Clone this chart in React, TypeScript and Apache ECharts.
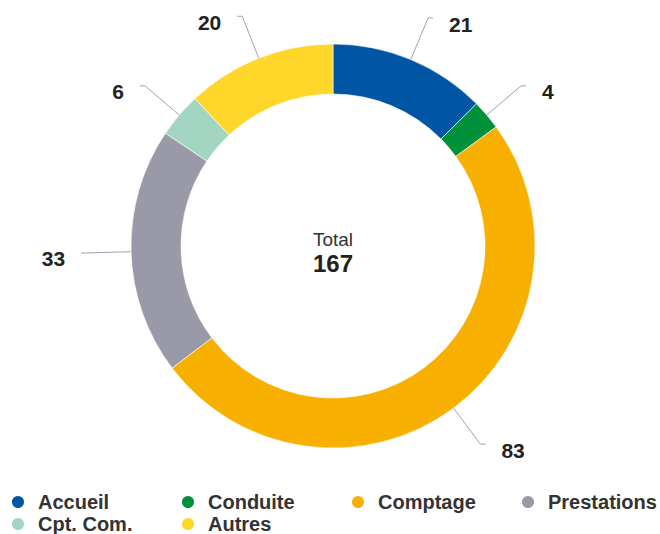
import React, { useEffect, useRef } from "react";
import * as echarts from "echarts";

const categories = ["Accueil", "Conduite", "Comptage", "Prestations", "Cpt. Com.", "Autres"];
const values = [21, 4, 83, 33, 6, 20];
const colors = ["#0055A4", "#00913A", "#F7AF00", "#9999A8", "#A3D5C3", "#FFD62A"];
const totalLabel = "Total";

export default function App() {
  const ref = useRef<HTMLDivElement>(null);
  useEffect(() => {
    document.body.style.margin = "0";
    if (!ref.current) return;
    const chart = echarts.init(ref.current, undefined, { renderer: "svg" });
    const total = values.reduce((a, b) => a + b, 0);
    const font = "'Liberation Sans', Arial, sans-serif";
    chart.setOption({
      animation: false,
      color: colors,
      legend: {
        left: 10,
        top: 492,
        width: 660,
        padding: 0,
        orient: "horizontal",
        icon: "circle",
        itemWidth: 30,
        itemHeight: 14,
        itemGap: 2,
        textStyle: {
          fontFamily: font,
          fontSize: 20,
          fontWeight: "bold",
          color: "#333333",
          lineHeight: 19,
          width: 140,
          overflow: "none",
        },
        data: categories.map((c) =>
          c === "Prestations"
            ? { name: c, textStyle: { width: 100, overflow: "none" } }
            : { name: c }
        ),
      },
      graphic: [
        {
          type: "text",
          x: 333,
          y: 239,
          style: {
            text: totalLabel,
            fontFamily: font,
            fontSize: 19,
            fill: "#333333",
            textAlign: "center",
            textVerticalAlign: "middle",
          },
        },
        {
          type: "text",
          x: 333,
          y: 263,
          style: {
            text: String(total),
            fontFamily: font,
            fontSize: 24,
            fontWeight: "bold",
            fill: "#222222",
            textAlign: "center",
            textVerticalAlign: "middle",
          },
        },
      ],
      series: [
        {
          type: "pie",
          center: [333, 246],
          radius: [152, 202],
          startAngle: 90,
          clockwise: true,
          avoidLabelOverlap: false,
          itemStyle: { borderColor: "#ffffff", borderWidth: 0.6 },
          label: {
            show: true,
            formatter: "{c}",
            fontFamily: font,
            fontSize: 21,
            fontWeight: "bold",
            color: "#222222",
            distanceToLabelLine: 16,
            offset: [0, 6],
          },
          labelLine: {
            show: true,
            length: 45,
            length2: 5,
            lineStyle: { color: "#A0A0B4", width: 1 },
          },
          emphasis: { disabled: true },
          data: categories.map((c, i) => ({ name: c, value: values[i] })),
        },
      ],
    });
    return () => chart.dispose();
  }, []);
  return <div ref={ref} style={{ width: 660, height: 534 }} />;
}
